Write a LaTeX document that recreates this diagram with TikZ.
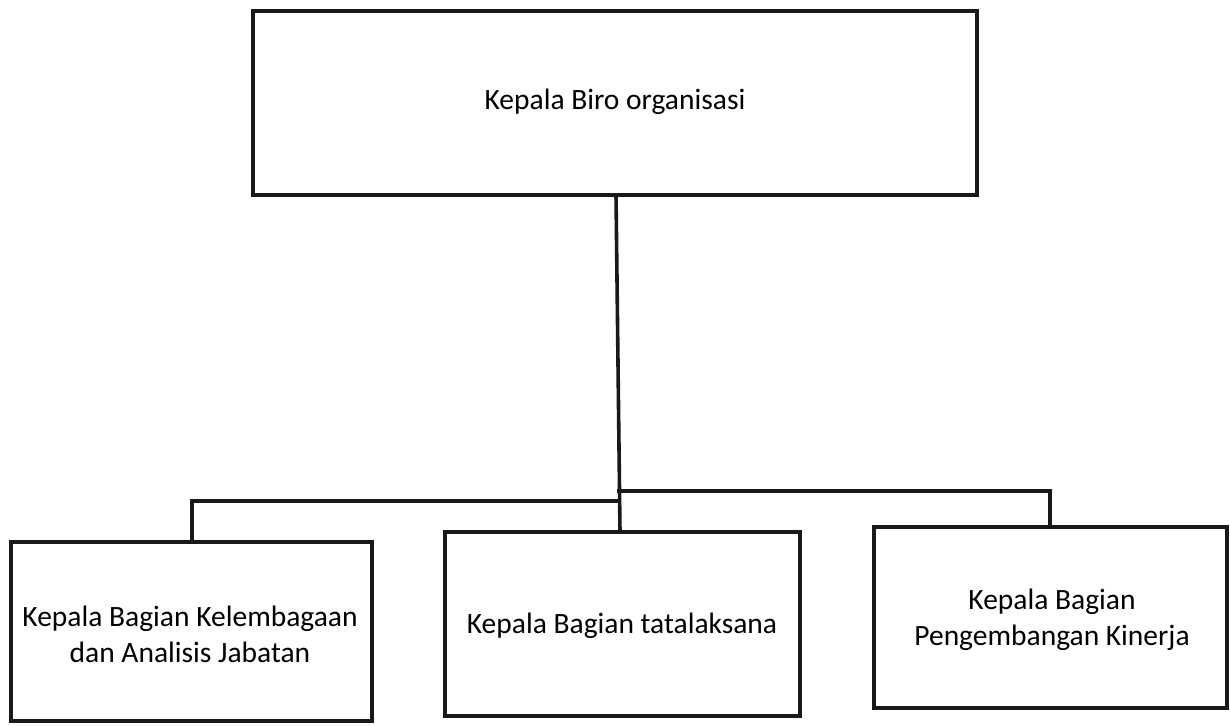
\documentclass[tikz,border=0pt]{standalone}
\usepackage{fontspec}
\setmainfont{Carlito}
\begin{document}
\begin{tikzpicture}[x=1pt,y=-1pt,
  box/.style={draw=black!90, line width=3.6pt, fill=none},
  lbl/.style={font=\fontsize{29.5}{36}\selectfont, align=center, text=black},
  conn/.style={draw=black!90, line width=3.6pt, line cap=rect}]
\useasboundingbox (0,0) rectangle (1230,725);
% boxes
\draw[box] (253,11) rectangle (977,195);
\draw[box] (11,542) rectangle (372,721);
\draw[box] (445,532) rectangle (800,716);
\draw[box] (874,527) rectangle (1227,708);
% nodes (text)
\node[lbl] (top) at (615,102) {Kepala Biro organisasi};
\node[lbl] (left) at (190,634) {Kepala Bagian Kelembagaan\\dan Analisis Jabatan};
\node[lbl] (mid) at (622,626) {Kepala Bagian tatalaksana};
\node[lbl] (right) at (1052,620) {Kepala Bagian\\Pengembangan Kinerja};
% anchor coordinates on box edges
\coordinate (topS) at (616,195);
\coordinate (midN) at (620,532);
\coordinate (leftN) at (192,542);
\coordinate (rightN) at (1050,527);
\coordinate (jL) at (619,501);
\coordinate (jR) at (619,491);
% connectors
\draw[conn] (topS) -- (midN);
\draw[conn] (jL) -| (leftN);
\draw[conn] (jR) -| (rightN);
\end{tikzpicture}
\end{document}
